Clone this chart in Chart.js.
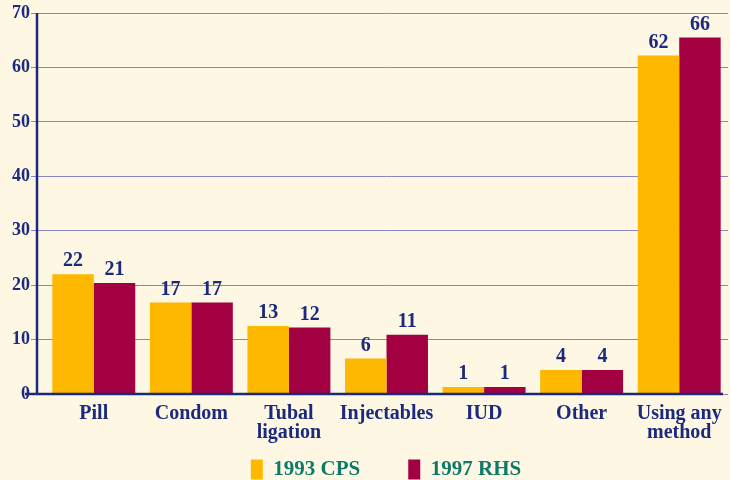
<!DOCTYPE html>
<html>
<head>
<meta charset="utf-8">
<script src="https://cdn.jsdelivr.net/npm/chart.js@4.4.0/dist/chart.umd.min.js"></script>
<style>
  body { margin: 0; background: #fdf7e4; }
  #wrap { width: 730px; height: 480px; position: relative; }
</style>
</head>
<body>
<div id="wrap"><canvas id="methods"></canvas></div>
<script>
// contraceptive use by method, two surveys
const categories = ['Pill', 'Condom', ['Tubal', 'ligation'], 'Injectables', 'IUD', 'Other', ['Using any', 'method']];
const cps1993 = [22.0, 16.8, 12.5, 6.5, 1.3, 4.4, 62.2];
const rhs1997 = [20.4, 16.8, 12.2, 10.9, 1.3, 4.4, 65.5];
const cpsLabels = ['22', '17', '13', '6', '1', '4', '62'];
const rhsLabels = ['21', '17', '12', '11', '1', '4', '66'];
const yTicks = [0, 10, 20, 30, 40, 50, 60, 70];

const NAVY = '#1b2a7c';
const FONT = '"Liberation Serif", "DejaVu Serif", serif';

// value labels above the bars
const barLabels = {
    id: 'barLabels',
    afterDatasetsDraw(chart) {
        const ctx = chart.ctx;
        const texts = [cpsLabels, rhsLabels];
        ctx.save();
        ctx.font = 'bold 20px ' + FONT;
        ctx.fillStyle = NAVY;
        ctx.textAlign = 'center';
        ctx.textBaseline = 'bottom';
        chart.data.datasets.forEach((ds, i) => {
            chart.getDatasetMeta(i).data.forEach((bar, j) => {
                ctx.fillText(texts[i][j], bar.x, bar.y - 3);
            });
        });
        ctx.restore();
    }
};

// the axis lines sit a little left of / below the bars
const axisLines = {
    id: 'axisLines',
    afterDatasetsDraw(chart) {
        const { ctx, chartArea } = chart;
        ctx.save();
        ctx.strokeStyle = NAVY;
        ctx.lineWidth = 2.5;
        ctx.beginPath();
        ctx.moveTo(chartArea.left - 8, chartArea.top);
        ctx.lineTo(chartArea.left - 8, chartArea.bottom);
        ctx.moveTo(25, chartArea.bottom);
        ctx.lineTo(chartArea.right - 5, chartArea.bottom);
        ctx.stroke();
        ctx.restore();
    }
};

// wide legend padding gives the gap between items; pull the box back up
// and a bit right of centre, like the original
const legendShift = {
    id: 'legendShift',
    afterLayout(chart) {
        const lg = chart.legend;
        lg.left += 22;
        lg.right += 22;
        lg.top -= 45;
        lg.bottom -= 45;
    }
};

new Chart(document.getElementById('methods'), {
    type: 'bar',
    data: {
        labels: categories,
        datasets: [
            { label: '1993 CPS', data: cps1993, backgroundColor: '#ffb800' },
            { label: '1997 RHS', data: rhs1997, backgroundColor: '#a30042' }
        ]
    },
    options: {
        responsive: true,
        maintainAspectRatio: false,
        animation: false,
        categoryPercentage: 0.85,
        barPercentage: 1,
        layout: { padding: { top: 13, right: 2, bottom: -55 } },
        scales: {
            x: {
                grid: { display: false },
                border: { display: false },
                ticks: {
                    color: NAVY,
                    font: { family: FONT, size: 20, weight: 'bold', lineHeight: 0.95 },
                    padding: 2,
                    maxRotation: 0,
                    autoSkip: false
                },
                afterFit: s => { s.height = 62; }
            },
            y: {
                min: 0,
                max: 70,
                afterBuildTicks: s => { s.ticks = yTicks.map(v => ({ value: v })); },
                grid: { color: '#8b86c0', lineWidth: 1, tickLength: 14 },
                border: { display: false },
                ticks: {
                    color: NAVY,
                    font: { family: FONT, size: 18, weight: 'bold' },
                    padding: 1
                },
                afterFit: s => { s.width = 45; }
            }
        },
        plugins: {
            tooltip: { enabled: false },
            legend: {
                position: 'bottom',
                labels: {
                    color: '#0c7a68',
                    font: { family: FONT, size: 21, weight: 'bold' },
                    boxWidth: 12,
                    boxHeight: 20,
                    padding: 48
                }
            }
        }
    },
    plugins: [barLabels, axisLines, legendShift]
});
</script>
</body>
</html>
